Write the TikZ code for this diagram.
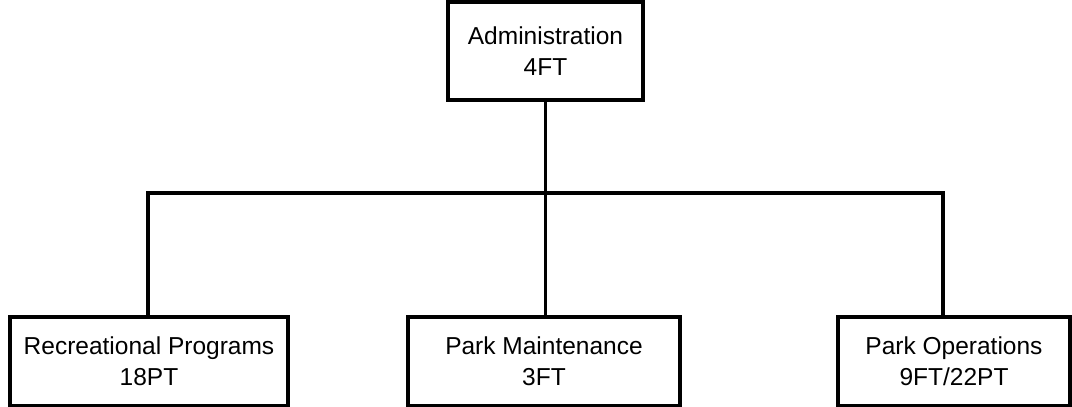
\documentclass[tikz,border=0pt]{standalone}
\usepackage{fontspec}
\setmainfont{Liberation Sans}
\usetikzlibrary{positioning}
\tikzset{
    %Define style for boxes
    unit/.style={
           rectangle,
           draw=black, line width=3.4pt,
           minimum height=89pt,
           align=center,
           font=\fontsize{24.5}{31}\selectfont},
    % Define connector style
    link/.style={
           line width=3.4pt}
}

\begin{document}
\begin{tikzpicture}[x=1pt, y=-1pt]
    \useasboundingbox (0,0) rectangle (1072,407);
 %nodes
    \node[unit, minimum width=195pt, minimum height=98pt] (admin) at (545.5,51) {Administration\\4FT};
    \coordinate (split) at (545.5,193);
    \node[unit, minimum width=278pt] (rec) at (149,361.5) {Recreational Programs\\18PT};
    \node[unit, minimum width=272pt] (maint) at (544,361.5) {Park Maintenance\\3FT};
    \node[unit, minimum width=232pt] (ops) at (954,361.5) {Park Operations\\9FT/22PT};
 %edges
    \draw[link] (admin) -- (split);
    \draw[link] (split) -| ([xshift=-1pt]rec.north);
    \draw[link] (split) -- (split |- maint.north);
    \draw[link] (split) -| ([xshift=-11pt]ops.north);
  \end{tikzpicture}
\end{document}
